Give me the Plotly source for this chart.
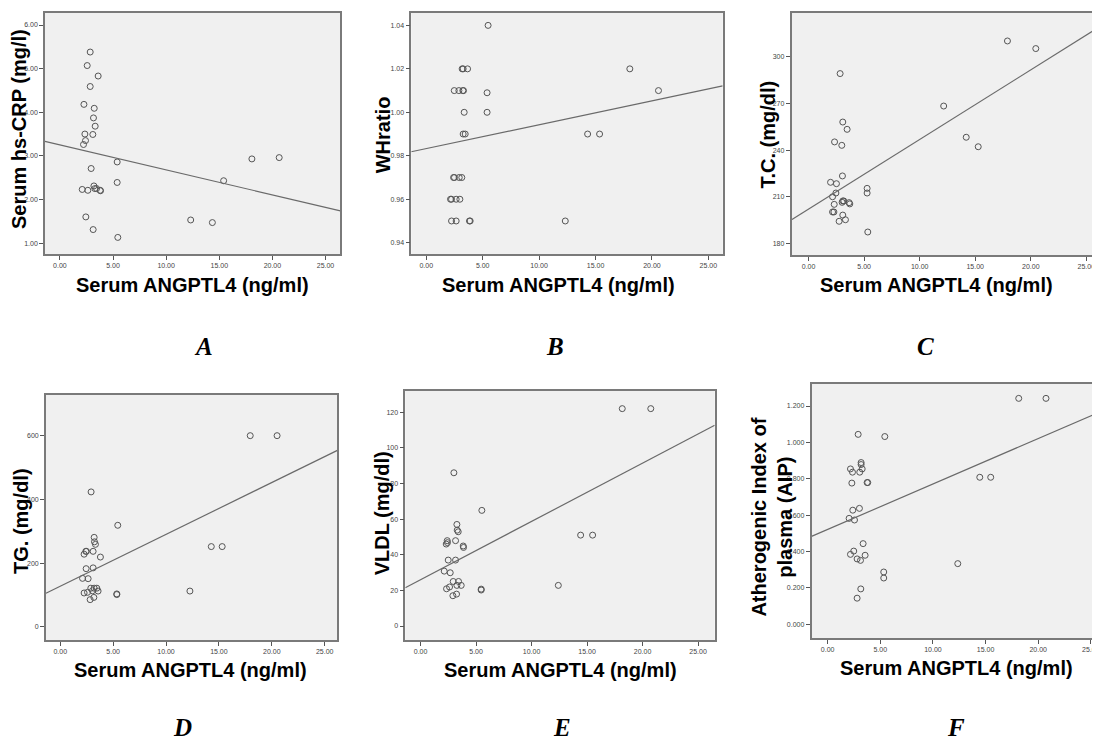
import plotly.graph_objects as go

# ---------------- data ----------------
x_title = "Serum ANGPTL4 (ng/ml)"

a_x = [2.85, 2.57, 3.60, 2.85, 2.26, 3.23, 3.16, 3.32, 2.35, 3.10, 2.41, 2.22, 5.39, 2.94, 5.39,
       3.20, 3.29, 3.45, 3.79, 3.82, 2.10, 2.63, 2.44, 3.13, 5.45, 12.31, 14.35, 15.41, 18.07, 20.64]
a_y = [5.38, 5.07, 4.83, 4.59, 4.18, 4.09, 3.87, 3.68, 3.50, 3.49, 3.35, 3.26, 2.86, 2.71, 2.39,
       2.31, 2.25, 2.25, 2.21, 2.20, 2.23, 2.21, 1.60, 1.31, 1.13, 1.53, 1.47, 2.43, 2.93, 2.96]
a_fit = (3.25, -0.0572)   # intercept, slope

b_x = [5.48, 3.18, 3.27, 3.66, 2.48, 2.89, 3.24, 3.30, 5.39, 3.36, 5.39, 3.27, 3.45, 14.30, 15.36,
       2.42, 2.50, 2.92, 3.15, 2.15, 2.24, 2.65, 2.98, 2.24, 2.65, 3.83, 3.89, 12.32, 18.04, 20.58]
b_y = [1.04, 1.02, 1.02, 1.02, 1.01, 1.01, 1.01, 1.01, 1.009, 1.00, 1.00, 0.99, 0.99, 0.99, 0.99,
       0.97, 0.97, 0.97, 0.97, 0.96, 0.96, 0.96, 0.96, 0.95, 0.95, 0.95, 0.95, 0.95, 1.02, 1.01]
b_fit = (0.9833, 0.0011)

c_x = [17.90, 20.45, 2.84, 12.16, 3.08, 3.47, 2.34, 14.19, 2.99, 15.27, 3.05, 1.98, 2.51, 5.27, 5.27,
       2.46, 2.16, 3.08, 3.17, 2.31, 3.65, 3.71, 3.02, 2.16, 2.28, 3.08, 3.32, 2.75, 5.33]
c_y = [310.3, 305.4, 289.3, 268.4, 258.1, 253.4, 245.3, 248.3, 243.1, 242.2, 223.4, 219.3, 218.4, 215.4, 212.4,
       212.4, 210.0, 207.3, 207.3, 205.1, 206.2, 205.4, 206.4, 200.2, 200.2, 198.2, 195.2, 194.2, 187.3]
c_fit = (202.1, 4.48)

d_x = [17.96, 20.50, 2.92, 5.44, 14.28, 15.31, 3.21, 3.24, 3.33, 3.11, 2.42, 2.48, 2.26, 3.80, 2.45,
       3.11, 2.11, 2.64, 2.89, 3.21, 3.46, 2.26, 2.58, 3.05, 3.58, 5.35, 5.35, 3.18, 2.83, 12.26]
d_y = [601, 601, 424, 319, 252, 252, 281, 267, 259, 237, 237, 237, 228, 219, 182.5,
       185, 152, 151, 121, 121, 121, 106, 108, 113, 112, 103, 101, 92, 85, 112]
d_fit = (127.0, 16.33)

e_x = [18.17, 20.74, 3.00, 5.52, 14.42, 15.50, 3.27, 3.30, 3.39, 3.15, 2.40, 2.31, 2.42, 3.84, 3.87,
       2.49, 3.15, 2.13, 2.67, 2.94, 3.42, 2.34, 2.61, 3.27, 3.66, 5.46, 5.46, 2.91, 3.24, 12.41]
e_y = [122, 122, 86, 64.9, 51, 51, 57, 53.8, 52.9, 47.9, 47.9, 46, 46.8, 44.9, 44.1,
       37, 37, 30.8, 29.9, 25, 25, 20.9, 21.9, 22.8, 22.8, 20.7, 20.2, 17, 17.9, 22.8]
e_fit = (26.0, 3.27)

f_x = [18.15, 20.74, 2.90, 5.43, 3.18, 3.18, 3.28, 2.17, 2.36, 3.05, 3.75, 3.81, 2.30, 14.45, 15.49,
       3.02, 2.39, 2.04, 2.55, 3.37, 2.48, 2.17, 2.80, 3.12, 3.56, 12.36, 5.33, 5.33, 3.15, 2.80]
f_y = [1.242, 1.242, 1.044, 1.032, 0.889, 0.878, 0.854, 0.854, 0.836, 0.836, 0.779, 0.779, 0.776, 0.808, 0.808,
       0.637, 0.627, 0.582, 0.573, 0.443, 0.402, 0.384, 0.359, 0.351, 0.379, 0.333, 0.287, 0.254, 0.194, 0.143]
f_fit = (0.521, 0.025)

panels = [
    dict(x=a_x, y=a_y, fit=a_fit, ytitle="Serum hs-CRP (mg/l)", letter="A",
         ytick=[1, 2, 3, 4, 5, 6], yfmt=".2f"),
    dict(x=b_x, y=b_y, fit=b_fit, ytitle="WHratio", letter="B",
         ytick=[0.94, 0.96, 0.98, 1.00, 1.02, 1.04], yfmt=".2f"),
    dict(x=c_x, y=c_y, fit=c_fit, ytitle="T.C. (mg/dl)", letter="C",
         ytick=[180, 210, 240, 270, 300], yfmt="d"),
    dict(x=d_x, y=d_y, fit=d_fit, ytitle="TG. (mg/dl)", letter="D",
         ytick=[0, 200, 400, 600], yfmt="d"),
    dict(x=e_x, y=e_y, fit=e_fit, ytitle="VLDL (mg/dl)", letter="E",
         ytick=[0, 20, 40, 60, 80, 100, 120], yfmt="d"),
    dict(x=f_x, y=f_y, fit=f_fit, ytitle="Atherogenic Index of<br>plasma (AIP)", letter="F",
         ytick=[0, 0.2, 0.4, 0.6, 0.8, 1.0, 1.2], yfmt=".3f"),
]
x_ticks = [0, 5, 10, 15, 20, 25]

# ---------------- layout (page pixel boxes; page body has an 8px margin) ----------------
OFF = 8
W, H = 1100 - OFF, 742 - OFF
boxes = [  # left, right, top, bottom in page px
    (45, 341, 13, 254),
    (412, 724, 13, 254),
    (793, 1100, 13, 255),
    (46, 338, 395, 640),
    (406, 716, 391, 640),
    (813, 1100, 384, 638),
]
xranges = [(-1.41, 26.4), (-1.33, 26.27), (-1.53, 26.05), (-1.35, 26.2), (-1.38, 26.5), (-1.53, 25.68)]
yranges = [(0.75, 6.275), (0.9348, 1.0457), (172.5, 328.3), (-42, 729), (-7.85, 131.9), (-0.076, 1.321)]
ytitle_pos = [(19, 129), (384, 135), (769, 135), (21, 521), (383, 513), (773, 517)]
xtitle_pos = [(193, 285), (560, 285), (938, 285), (191, 670), (562, 670), (958, 668)]
letter_pos = [(204, 346), (556, 346), (927, 346), (183, 727), (563, 727), (958, 727)]


def px(v):
    return (v - OFF) / W


def py(v):
    return 1 - (v - OFF) / H


fig = go.Figure()
annotations = []
line_col = "#6a6a6a"
title_font = dict(family="Liberation Sans, Arial", size=20, color="black")

for i, p in enumerate(panels):
    n = "" if i == 0 else str(i + 1)
    xa, ya = "x" + n, "y" + n
    l, r, t, b = boxes[i]
    x0, x1 = xranges[i]
    fig.add_trace(go.Scatter(
        x=p["x"], y=p["y"], xaxis=xa, yaxis=ya, mode="markers",
        marker=dict(symbol="circle-open", size=6, color="#555555", line=dict(width=1)),
        showlegend=False, hoverinfo="x+y"))
    icpt, slope = p["fit"]
    fx = [x0, x1]
    fy = [icpt + slope * v for v in fx]
    fig.add_trace(go.Scatter(
        x=fx, y=fy, xaxis=xa, yaxis=ya, mode="lines",
        line=dict(color=line_col, width=1.2), showlegend=False, hoverinfo="skip"))

    axis_common = dict(showgrid=False, zeroline=False, showline=True, linecolor="#7a7a7a",
                       linewidth=1.5, mirror=True, ticks="outside", ticklen=4, tickwidth=1,
                       tickcolor="#555555",
                       tickfont=dict(family="Liberation Sans, Arial", size=7, color="#444444"))
    fig.update_layout(**{
        "xaxis" + n: dict(domain=[max(0, px(l)), min(1, px(r))], range=[x0, x1], anchor=ya,
                          tickvals=x_ticks, tickformat=".2f", **axis_common),
        "yaxis" + n: dict(domain=[py(b), py(t)], range=list(yranges[i]), anchor=xa,
                          tickvals=p["ytick"], tickformat=p["yfmt"], **axis_common),
    })
    tx, ty = ytitle_pos[i]
    annotations.append(dict(text="<b>" + p["ytitle"].replace("<br>", "</b><br><b>") + "</b>",
                            x=px(tx), y=py(ty), xref="paper", yref="paper",
                            showarrow=False, textangle=-90, xanchor="center", yanchor="middle",
                            font=title_font))
    tx, ty = xtitle_pos[i]
    annotations.append(dict(text="<b>" + x_title + "</b>", x=px(tx), y=py(ty), xref="paper",
                            yref="paper", showarrow=False, xanchor="center", yanchor="middle",
                            font=title_font))
    tx, ty = letter_pos[i]
    annotations.append(dict(text="<b><i>" + p["letter"] + "</i></b>", x=px(tx), y=py(ty),
                            xref="paper", yref="paper", showarrow=False, xanchor="center",
                            yanchor="middle",
                            font=dict(family="Liberation Serif, Times New Roman", size=25,
                                      color="black")))

fig.update_layout(
    width=W, height=H, margin=dict(l=0, r=0, t=0, b=0),
    paper_bgcolor="white", plot_bgcolor="#f0f0f0",
    annotations=annotations,
)

fig.write_html("out.html")
